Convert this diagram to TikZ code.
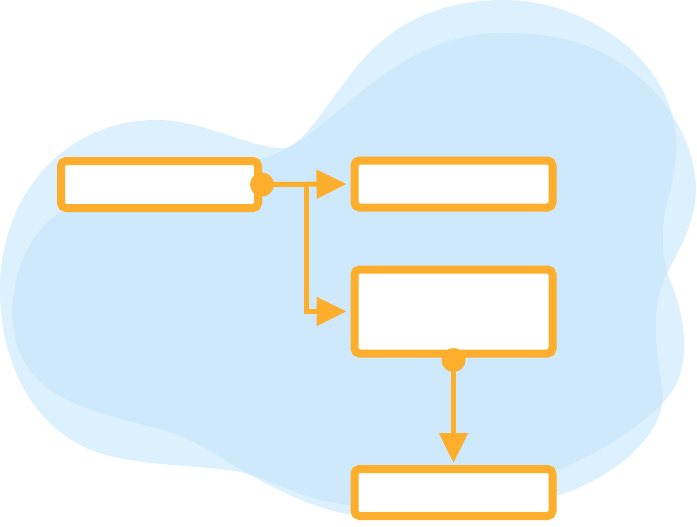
\documentclass[tikz,border=0pt]{standalone}
\usetikzlibrary{arrows.meta}
\definecolor{boxorange}{HTML}{FDAE2C}
\definecolor{bluelight}{HTML}{DCF1FD}
\definecolor{bluedark}{HTML}{CEE8FC}
\begin{document}
\begin{tikzpicture}[x=1pt,y=-1pt,
  box/.style={draw=boxorange, line width=8pt, fill=white, rounded corners=5pt,
    minimum width=198pt, minimum height=47pt, inner sep=0pt},
  conn/.style={draw=boxorange, line width=5pt, -{Triangle[length=30pt,width=28pt]}},
  dotfill/.style={fill=boxorange}]
\useasboundingbox (0,0) rectangle (697,527);
\def\blobL{(505,0) .. controls (570,0) and (640,40) .. (665,95)
  .. controls (680,128) and (678,160) .. (670,190)
  .. controls (663,215) and (658,250) .. (670,280)
  .. controls (680,305) and (690,340) .. (680,375)
  .. controls (672,403) and (630,435) .. (580,460)
  .. controls (530,485) and (430,510) .. (350,505)
  .. controls (300,500) and (270,478) .. (240,472)
  .. controls (210,466) and (150,466) .. (110,456)
  .. controls (40,440) and (0,370) .. (0,290)
  .. controls (0,190) and (70,118) .. (160,120)
  .. controls (205,121) and (250,148) .. (283,148)
  .. controls (300,148) and (320,115) .. (350,75)
  .. controls (390,22) and (440,0) .. (505,0) -- cycle}
\def\blobB{(503,33) .. controls (430,33) and (380,75) .. (330,118)
  .. controls (295,148) and (270,160) .. (230,165)
  .. controls (150,175) and (60,190) .. (30,245)
  .. controls (5,290) and (5,350) .. (40,382)
  .. controls (70,410) and (130,420) .. (170,432)
  .. controls (210,444) and (260,490) .. (330,510)
  .. controls (400,530) and (500,515) .. (560,495)
  .. controls (620,475) and (668,430) .. (662,390)
  .. controls (658,360) and (648,310) .. (667,273)
  .. controls (685,240) and (700,210) .. (695,175)
  .. controls (690,140) and (670,100) .. (630,70)
  .. controls (590,40) and (550,33) .. (503,33) -- cycle}
\fill[bluelight] \blobL;
\fill[bluelight] \blobB;
\begin{scope}
\clip \blobL;
\fill[bluedark] \blobB;
\end{scope}
% boxes
\node[box, minimum width=197pt] (b1) at (159.5,184.5) {};
\node[box] (b2) at (453.5,184) {};
\node[box, minimum height=84pt] (b3) at (453.5,311.5) {};
\node[box] (b4) at (453.5,492.5) {};
% connectors
\coordinate (j) at (306,184.5);
\draw[conn, shorten >=4pt] (b1.east) -- (b2.west);
\draw[conn, shorten >=4pt] (j) |- (b3.west);
\draw[conn, shorten >=2pt] (b3.south) -- (b4.north);
\fill[dotfill] (b1.east) circle (12pt);
\fill[dotfill] ([yshift=-2.5pt]b3.south) circle (12pt);
\end{tikzpicture}
\end{document}
